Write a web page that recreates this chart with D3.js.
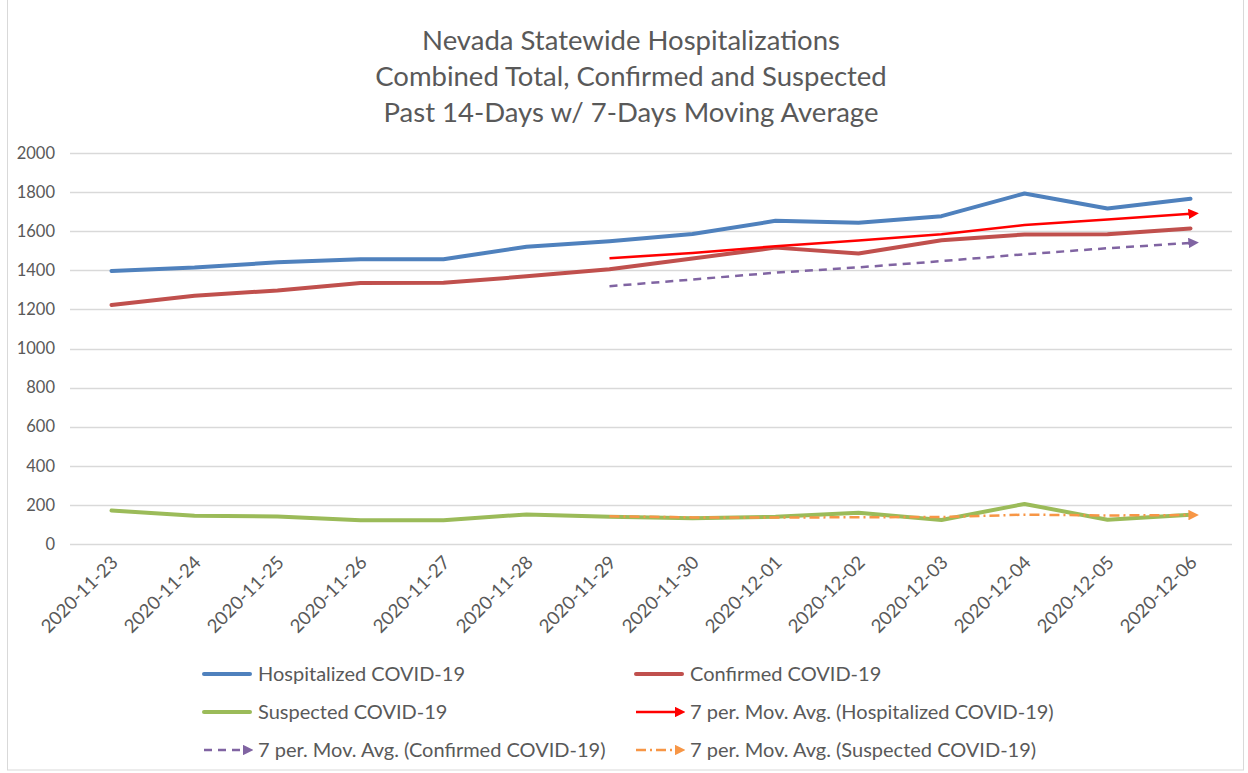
<!DOCTYPE html>
<html>
<head>
<meta charset="utf-8">
<script src="https://cdn.jsdelivr.net/npm/d3@7"></script>
<style>
  html, body { margin: 0; padding: 0; background: #fff; }
  svg { display: block; font-family: Lato, "Open Sans", sans-serif; }
</style>
</head>
<body>
<div id="chart"></div>
<script>
(function () {
  "use strict";

  var dates = ["2020-11-23", "2020-11-24", "2020-11-25", "2020-11-26", "2020-11-27", "2020-11-28", "2020-11-29",
    "2020-11-30", "2020-12-01", "2020-12-02", "2020-12-03", "2020-12-04", "2020-12-05", "2020-12-06"];
  var hospitalized = [1397, 1414, 1441, 1456, 1457, 1520, 1549, 1586, 1653, 1643, 1677, 1793, 1716, 1766];
  var confirmed = [1222, 1270, 1297, 1335, 1336, 1369, 1405, 1460, 1516, 1486, 1554, 1583, 1585, 1614];
  var suspected = [171, 144, 141, 122, 122, 151, 140, 132, 139, 160, 123, 205, 124, 150];
  // 7-period moving averages, starting at the 7th date
  var hospAvg = [null, null, null, null, null, null, 1462, 1489, 1523, 1552, 1584, 1632, 1660, 1689];
  var confAvg = [null, null, null, null, null, null, 1319, 1353, 1388, 1415, 1447, 1482, 1513, 1540];
  var suspAvg = [null, null, null, null, null, null, 142, 136, 135, 137, 138, 150, 146, 148];
  var yTicks = [0, 200, 400, 600, 800, 1000, 1200, 1400, 1600, 1800, 2000];
  var titleLines = ["Nevada Statewide Hospitalizations", "Combined Total, Confirmed and Suspected", "Past 14-Days w/ 7-Days Moving Average"];

  var W = 1248, H = 773;
  var plot = { left: 70, right: 1232, top: 153, bottom: 544 };

  var series = [
    { name: "Hospitalized COVID-19", values: hospitalized, color: "#4F81BD", width: 4, dash: null, arrow: false },
    { name: "Confirmed COVID-19", values: confirmed, color: "#C0504D", width: 4, dash: null, arrow: false },
    { name: "Suspected COVID-19", values: suspected, color: "#9BBB59", width: 4, dash: null, arrow: false },
    { name: "7 per. Mov. Avg. (Hospitalized COVID-19)", values: hospAvg, color: "#FF0000", width: 2.5, dash: null, arrow: true },
    { name: "7 per. Mov. Avg. (Confirmed COVID-19)", values: confAvg, color: "#8064A2", width: 2.5, dash: "8,6", arrow: true },
    { name: "7 per. Mov. Avg. (Suspected COVID-19)", values: suspAvg, color: "#F79646", width: 2.5, dash: "10,4,2,4", arrow: true }
  ];

  var svg = d3.select("#chart").append("svg")
    .attr("width", W).attr("height", H).attr("viewBox", [0, 0, W, H]);

  svg.append("rect").attr("x", 7.5).attr("y", -1).attr("width", 1236).attr("height", 771)
    .attr("fill", "#fff").attr("stroke", "#d9d9d9").attr("stroke-width", 1);

  var defs = svg.append("defs");
  series.forEach(function (s, i) {
    if (!s.arrow) return;
    defs.append("marker")
      .attr("id", "arrow" + i)
      .attr("viewBox", "0 0 10 10")
      .attr("refX", 2).attr("refY", 5)
      .attr("markerWidth", 4.2).attr("markerHeight", 4.2)
      .attr("markerUnits", "strokeWidth")
      .attr("orient", "auto")
      .append("path").attr("d", "M0,0L10,5L0,10z").attr("fill", s.color);
  });

  var x = d3.scaleBand().domain(dates).range([plot.left, plot.right]);
  var y = d3.scaleLinear().domain([0, 2000]).range([plot.bottom, plot.top]);
  var cx = function (d) { return x(d) + x.bandwidth() / 2; };

  // title
  svg.append("g").selectAll("text").data(titleLines).join("text")
    .attr("x", 631).attr("y", function (d, i) { return 50 + i * 36; })
    .attr("text-anchor", "middle").attr("fill", "#595959")
    .style("font-size", "27.5px")
    .text(function (d) { return d; });

  // gridlines
  svg.append("g").selectAll("line").data(yTicks).join("line")
    .attr("x1", plot.left).attr("x2", plot.right)
    .attr("y1", function (d) { return Math.round(y(d)) + 0.5; })
    .attr("y2", function (d) { return Math.round(y(d)) + 0.5; })
    .attr("stroke", "#d9d9d9").attr("stroke-width", 1.3);

  var yAxis = svg.append("g").attr("transform", "translate(" + (plot.left - 15) + ",0)")
    .call(d3.axisLeft(y).tickValues(yTicks).tickFormat(d3.format("d")).tickSize(0).tickPadding(0));
  yAxis.select(".domain").remove();
  yAxis.selectAll("text").attr("fill", "#595959").style("font-size", "16.5px").style("font-family", "Lato, sans-serif");

  var xAxis = svg.append("g").attr("transform", "translate(0," + plot.bottom + ")")
    .call(d3.axisBottom(x).tickSize(0).tickPadding(0));
  xAxis.select(".domain").remove();
  xAxis.selectAll("text")
    .attr("fill", "#595959").style("font-size", "18.5px").style("font-family", "Lato, sans-serif")
    .attr("text-anchor", "end")
    .attr("dy", "0.35em")
    .attr("transform", "translate(3,15) rotate(-45)");

  var line = d3.line()
    .defined(function (d) { return d.v != null; })
    .x(function (d) { return cx(d.date); })
    .y(function (d) { return y(d.v); });

  svg.append("g").selectAll("path").data(series).join("path")
    .attr("d", function (s) {
      return line(s.values.map(function (v, j) { return { date: dates[j], v: v }; }).filter(function (d) { return d.v != null; }));
    })
    .attr("fill", "none")
    .attr("stroke", function (s) { return s.color; })
    .attr("stroke-width", function (s) { return s.width; })
    .attr("stroke-dasharray", function (s) { return s.dash; })
    .attr("stroke-linejoin", "round")
    .attr("stroke-linecap", function (s) { return s.arrow ? "butt" : "round"; })
    .attr("marker-end", function (s, i) { return s.arrow ? "url(#arrow" + i + ")" : null; });

  // legend
  var legendPos = [[204, 674], [636, 674], [204, 712], [636, 712], [204, 750], [636, 750]];
  var lg = svg.append("g").selectAll("g").data(series).join("g")
    .attr("transform", function (s, i) { return "translate(" + legendPos[i][0] + "," + legendPos[i][1] + ")"; });
  lg.append("line")
    .attr("x1", 0).attr("x2", function (s) { return s.arrow ? 41 : 46; })
    .attr("y1", 0).attr("y2", 0)
    .attr("stroke", function (s) { return s.color; })
    .attr("stroke-width", function (s) { return s.width; })
    .attr("stroke-dasharray", function (s) { return s.dash; })
    .attr("stroke-linecap", function (s) { return s.arrow ? "butt" : "round"; })
    .attr("marker-end", function (s, i) { return s.arrow ? "url(#arrow" + i + ")" : null; });
  lg.append("text")
    .attr("x", 54).attr("y", 0).attr("dy", "0.35em")
    .attr("fill", "#595959").style("font-size", "20px")
    .text(function (s) { return s.name; });
})();
</script>
</body>
</html>
